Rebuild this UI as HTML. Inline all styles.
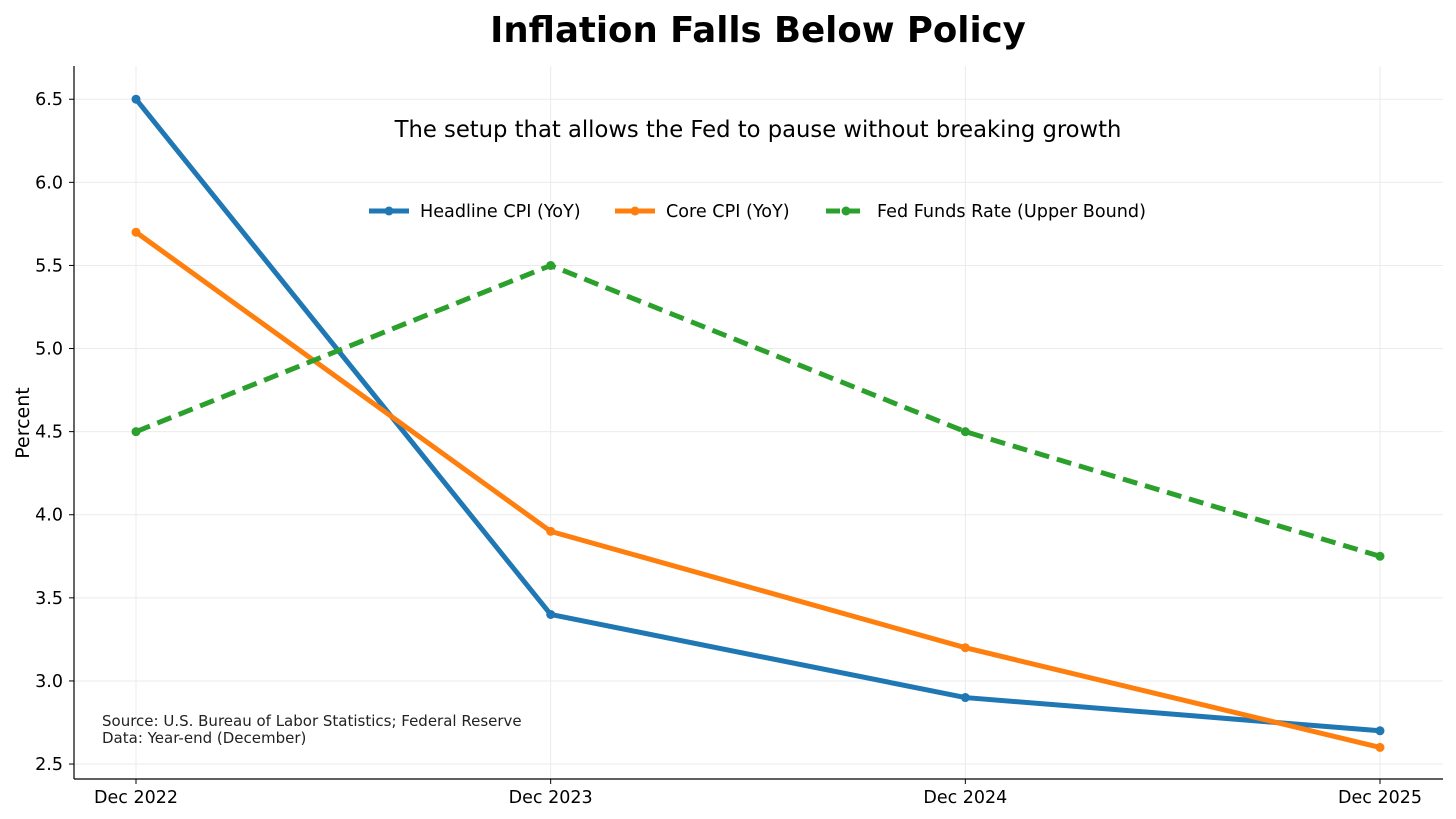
<!DOCTYPE html>
<html><head><meta charset="utf-8"><style>
body{margin:0;background:#fff;}
svg{display:block;font-family:"DejaVu Sans","Liberation Sans",sans-serif;}
</style></head><body>
<svg id="chart" width="1456" height="819">
<text x="758" y="42" text-anchor="middle" font-size="35.5" font-weight="bold">Inflation Falls Below Policy</text>
<g id="grid"></g>
<g id="series"></g>
<g id="axes"></g>
<text x="758" y="137" text-anchor="middle" font-size="22.7">The setup that allows the Fed to pause without breaking growth</text>
<g id="legend"></g>
<text x="102" y="726" font-size="15" fill="#222">Source: U.S. Bureau of Labor Statistics; Federal Reserve</text>
<text x="102" y="743" font-size="15" fill="#222">Data: Year-end (December)</text>
<text transform="translate(29,423) rotate(-90)" text-anchor="middle" font-size="19">Percent</text>
</svg>
<script>
const categories=["Dec 2022","Dec 2023","Dec 2024","Dec 2025"];
const headline=[6.5,3.4,2.9,2.7];
const core=[5.7,3.9,3.2,2.6];
const fedFunds=[4.5,5.5,4.5,3.75];
const yTicks=[2.5,3.0,3.5,4.0,4.5,5.0,5.5,6.0,6.5];
const seriesNames=["Headline CPI (YoY)","Core CPI (YoY)","Fed Funds Rate (Upper Bound)"];

const NS="http://www.w3.org/2000/svg";
const L=74,R=1443,T=66,B=779;
const yMin=2.41,yMax=6.70;
const x=i=>136+i*(1380-136)/(categories.length-1);
const y=v=>B-(v-yMin)/(yMax-yMin)*(B-T);
function mk(tag,attrs,parent){const e=document.createElementNS(NS,tag);for(const k in attrs)e.setAttribute(k,attrs[k]);parent.appendChild(e);return e;}
const grid=document.getElementById('grid'),axes=document.getElementById('axes'),ser=document.getElementById('series'),leg=document.getElementById('legend');
yTicks.forEach(t=>{
 const g=mk('line',{x1:L,x2:R,y1:y(t),y2:y(t),stroke:'#ebebeb','stroke-width':1},grid);
 
 
 const tk=mk('line',{x1:L-5,x2:L,y1:y(t),y2:y(t),stroke:'#000','stroke-width':1},axes);
 
 
 const tx=mk('text',{x:L-11,y:y(t)+6,'text-anchor':'end','font-size':17.5},axes);
 tx.textContent=t.toFixed(1);
 
 
});
categories.forEach((c,i)=>{
 const g=mk('line',{x1:x(i),x2:x(i),y1:T,y2:B,stroke:'#ebebeb','stroke-width':1},grid);
 
 
 const tk=mk('line',{x1:x(i),x2:x(i),y1:B,y2:B+5,stroke:'#000','stroke-width':1},axes);
 
 
 const tx=mk('text',{x:x(i),y:B+24,'text-anchor':'middle','font-size':17.5},axes);
 tx.textContent=c;
 
 
});
const la=mk('line',{x1:L,x2:L,y1:T,y2:B,stroke:'#000','stroke-width':1.2},axes);


const ba=mk('line',{x1:L,x2:R,y1:B,y2:B,stroke:'#000','stroke-width':1.2},axes);


const defs=[[headline,'#1f77b4',null,'headline-cpi'],[core,'#ff7f0e',null,'core-cpi'],[fedFunds,'#2ca02c','15 8','fed-funds-rate']];
defs.forEach(([d,col,dash,name])=>{
 const p=mk('polyline',{points:d.map((v,i)=>x(i)+','+y(v)).join(' '),fill:'none',stroke:col,'stroke-width':5,'stroke-linejoin':'round'},ser);
 if(dash)p.setAttribute('stroke-dasharray',dash);
 
 
 d.forEach((v,i)=>{const c=mk('circle',{cx:x(i),cy:y(v),r:4.5,fill:col},ser);
  
  });
});
const legX=[369,615,826];
defs.forEach(([d,col,dash,name],k)=>{
 const g=mk('g',{},leg);
 
 
 const l=mk('line',{x1:legX[k],x2:legX[k]+40,y1:211,y2:211,stroke:col,'stroke-width':5},g);
 if(dash)l.setAttribute('stroke-dasharray','14 6');
 mk('circle',{cx:legX[k]+20,cy:211,r:4.5,fill:col},g);
 const t=mk('text',{x:legX[k]+51,y:217,'font-size':17.6},g);
 t.textContent=seriesNames[k];
});
</script>
</body></html>
